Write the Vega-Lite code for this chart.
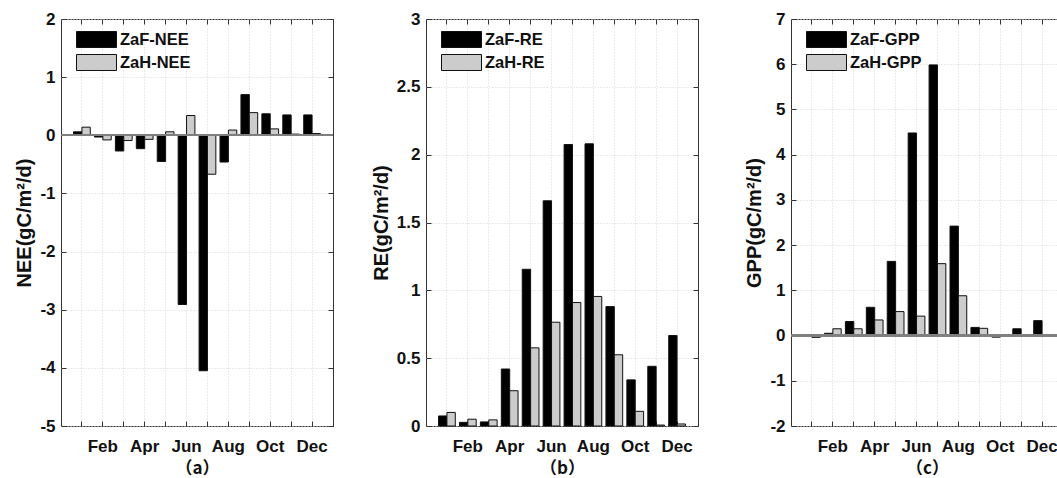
{
  "$schema": "https://vega.github.io/schema/vega-lite/v6.json",
  "background": "white",
  "padding": {"left": 14, "top": -8, "right": 0, "bottom": 0},
  "spacing": 93,
  "bounds": "flush",
  "config": {
    "font": "Liberation Sans",
    "view": {"stroke": "#333333", "strokeWidth": 1},
    "axis": {
      "domain": false,
      "labelFont": "Liberation Sans",
      "labelFontSize": 17,
      "labelFontWeight": "bold",
      "labelColor": "#111111",
      "tickColor": "#333333",
      "tickSize": -5,
      "gridColor": "#d4d4d4",
      "gridDash": [1, 2],
      "titleFont": "Liberation Sans",
      "titleFontWeight": "bold",
      "titleColor": "#111111"
    },
    "legend": {
      "orient": "none",
      "legendX": 27,
      "legendY": 12,
      "title": null,
      "padding": 0,
      "symbolType": "M-2.5,-1H2.5V1H-2.5Z",
      "symbolSize": 256,
      "symbolStrokeColor": "#111111",
      "symbolStrokeWidth": 1,
      "symbolOpacity": 1,
      "labelFont": "Liberation Sans",
      "labelFontSize": 16.5,
      "labelFontWeight": "bold",
      "labelColor": "#111111",
      "labelOffset": 15,
      "rowPadding": 2
    }
  },
  "data": {
    "values": [
      {"panel": "a", "month": "Jan", "series": "ZaF-NEE", "value": 0.06},
      {"panel": "a", "month": "Feb", "series": "ZaF-NEE", "value": -0.03},
      {"panel": "a", "month": "Mar", "series": "ZaF-NEE", "value": -0.27},
      {"panel": "a", "month": "Apr", "series": "ZaF-NEE", "value": -0.23},
      {"panel": "a", "month": "May", "series": "ZaF-NEE", "value": -0.45},
      {"panel": "a", "month": "Jun", "series": "ZaF-NEE", "value": -2.91},
      {"panel": "a", "month": "Jul", "series": "ZaF-NEE", "value": -4.05},
      {"panel": "a", "month": "Aug", "series": "ZaF-NEE", "value": -0.46},
      {"panel": "a", "month": "Sep", "series": "ZaF-NEE", "value": 0.70},
      {"panel": "a", "month": "Oct", "series": "ZaF-NEE", "value": 0.37},
      {"panel": "a", "month": "Nov", "series": "ZaF-NEE", "value": 0.35},
      {"panel": "a", "month": "Dec", "series": "ZaF-NEE", "value": 0.35},
      {"panel": "a", "month": "Jan", "series": "ZaH-NEE", "value": 0.14},
      {"panel": "a", "month": "Feb", "series": "ZaH-NEE", "value": -0.08},
      {"panel": "a", "month": "Mar", "series": "ZaH-NEE", "value": -0.09},
      {"panel": "a", "month": "Apr", "series": "ZaH-NEE", "value": -0.07},
      {"panel": "a", "month": "May", "series": "ZaH-NEE", "value": 0.06},
      {"panel": "a", "month": "Jun", "series": "ZaH-NEE", "value": 0.34},
      {"panel": "a", "month": "Jul", "series": "ZaH-NEE", "value": -0.67},
      {"panel": "a", "month": "Aug", "series": "ZaH-NEE", "value": 0.09},
      {"panel": "a", "month": "Sep", "series": "ZaH-NEE", "value": 0.39},
      {"panel": "a", "month": "Oct", "series": "ZaH-NEE", "value": 0.11},
      {"panel": "a", "month": "Nov", "series": "ZaH-NEE", "value": 0.02},
      {"panel": "a", "month": "Dec", "series": "ZaH-NEE", "value": 0.03},
      {"panel": "b", "month": "Jan", "series": "ZaF-RE", "value": 0.074},
      {"panel": "b", "month": "Feb", "series": "ZaF-RE", "value": 0.027},
      {"panel": "b", "month": "Mar", "series": "ZaF-RE", "value": 0.03},
      {"panel": "b", "month": "Apr", "series": "ZaF-RE", "value": 0.42},
      {"panel": "b", "month": "May", "series": "ZaF-RE", "value": 1.155},
      {"panel": "b", "month": "Jun", "series": "ZaF-RE", "value": 1.66},
      {"panel": "b", "month": "Jul", "series": "ZaF-RE", "value": 2.075},
      {"panel": "b", "month": "Aug", "series": "ZaF-RE", "value": 2.08},
      {"panel": "b", "month": "Sep", "series": "ZaF-RE", "value": 0.88},
      {"panel": "b", "month": "Oct", "series": "ZaF-RE", "value": 0.34},
      {"panel": "b", "month": "Nov", "series": "ZaF-RE", "value": 0.44},
      {"panel": "b", "month": "Dec", "series": "ZaF-RE", "value": 0.667},
      {"panel": "b", "month": "Jan", "series": "ZaH-RE", "value": 0.10},
      {"panel": "b", "month": "Feb", "series": "ZaH-RE", "value": 0.05},
      {"panel": "b", "month": "Mar", "series": "ZaH-RE", "value": 0.045},
      {"panel": "b", "month": "Apr", "series": "ZaH-RE", "value": 0.26},
      {"panel": "b", "month": "May", "series": "ZaH-RE", "value": 0.576},
      {"panel": "b", "month": "Jun", "series": "ZaH-RE", "value": 0.765},
      {"panel": "b", "month": "Jul", "series": "ZaH-RE", "value": 0.91},
      {"panel": "b", "month": "Aug", "series": "ZaH-RE", "value": 0.955},
      {"panel": "b", "month": "Sep", "series": "ZaH-RE", "value": 0.525},
      {"panel": "b", "month": "Oct", "series": "ZaH-RE", "value": 0.108},
      {"panel": "b", "month": "Nov", "series": "ZaH-RE", "value": 0.007},
      {"panel": "b", "month": "Dec", "series": "ZaH-RE", "value": 0.015},
      {"panel": "c", "month": "Jan", "series": "ZaF-GPP", "value": 0.01},
      {"panel": "c", "month": "Feb", "series": "ZaF-GPP", "value": 0.05},
      {"panel": "c", "month": "Mar", "series": "ZaF-GPP", "value": 0.31},
      {"panel": "c", "month": "Apr", "series": "ZaF-GPP", "value": 0.625},
      {"panel": "c", "month": "May", "series": "ZaF-GPP", "value": 1.64},
      {"panel": "c", "month": "Jun", "series": "ZaF-GPP", "value": 4.48},
      {"panel": "c", "month": "Jul", "series": "ZaF-GPP", "value": 5.985},
      {"panel": "c", "month": "Aug", "series": "ZaF-GPP", "value": 2.42},
      {"panel": "c", "month": "Sep", "series": "ZaF-GPP", "value": 0.18},
      {"panel": "c", "month": "Oct", "series": "ZaF-GPP", "value": -0.035},
      {"panel": "c", "month": "Nov", "series": "ZaF-GPP", "value": 0.15},
      {"panel": "c", "month": "Dec", "series": "ZaF-GPP", "value": 0.33},
      {"panel": "c", "month": "Jan", "series": "ZaH-GPP", "value": -0.04},
      {"panel": "c", "month": "Feb", "series": "ZaH-GPP", "value": 0.15},
      {"panel": "c", "month": "Mar", "series": "ZaH-GPP", "value": 0.15},
      {"panel": "c", "month": "Apr", "series": "ZaH-GPP", "value": 0.345},
      {"panel": "c", "month": "May", "series": "ZaH-GPP", "value": 0.53},
      {"panel": "c", "month": "Jun", "series": "ZaH-GPP", "value": 0.43},
      {"panel": "c", "month": "Jul", "series": "ZaH-GPP", "value": 1.59},
      {"panel": "c", "month": "Aug", "series": "ZaH-GPP", "value": 0.88},
      {"panel": "c", "month": "Sep", "series": "ZaH-GPP", "value": 0.16},
      {"panel": "c", "month": "Oct", "series": "ZaH-GPP", "value": 0.01},
      {"panel": "c", "month": "Nov", "series": "ZaH-GPP", "value": 0.005},
      {"panel": "c", "month": "Dec", "series": "ZaH-GPP", "value": -0.01}
    ]
  },
  "hconcat": [
    {
      "width": 272,
      "height": 407,
      "transform": [{"filter": "datum.panel == 'a'"}],
      "layer": [
        {
          "mark": {"type": "bar", "stroke": "#111111", "strokeWidth": 1},
          "encoding": {
            "x": {
              "field": "month", "type": "nominal",
              "scale": {"domain": ["Jan","Feb","Mar","Apr","May","Jun","Jul","Aug","Sep","Oct","Nov","Dec"], "paddingInner": 0.2, "paddingOuter": 0.6},
              "axis": {"orient": "bottom", "grid": true, "labelAngle": 0, "labelPadding": 17, "labelExpr": "indexof(['Feb','Apr','Jun','Aug','Oct','Dec'], datum.value) >= 0 ? datum.value : ''", "title": "（a）", "titleFont": "Noto Sans CJK SC", "titleFontSize": 17, "titlePadding": 6}
            },
            "xOffset": {"field": "series", "type": "nominal", "scale": {"paddingInner": 0, "paddingOuter": 0}},
            "y": {
              "field": "value", "type": "quantitative",
              "scale": {"domain": [-5, 2], "nice": false, "zero": false},
              "axis": {"orient": "left", "grid": true, "values": [-5,-4,-3,-2,-1,0,1,2], "labelExpr": "'' + datum.value", "labelPadding": 11, "title": "NEE(gC/m²/d)", "titleFontSize": 20, "titlePadding": 5}
            },
            "color": {
              "field": "series", "type": "nominal",
              "scale": {"domain": ["ZaF-NEE", "ZaH-NEE"], "range": ["#000000", "#cccccc"]},
              "legend": {}
            }
          }
        },
        {
          "mark": {"type": "rule", "color": "#7f7f7f", "strokeWidth": 1.5},
          "encoding": {"y": {"datum": 0, "type": "quantitative", "axis": null}}
        },
        {
          "mark": {"type": "bar", "opacity": 0},
          "encoding": {
            "x": {"field": "month", "type": "nominal", "axis": {"orient": "top", "labels": false, "grid": false, "title": null}},
            "y": {"field": "value", "type": "quantitative", "axis": {"orient": "right", "labels": false, "grid": false, "title": null, "values": [-5,-4,-3,-2,-1,0,1,2]}}
          }
        }
      ],
      "resolve": {"axis": {"x": "independent", "y": "independent"}}
    },
    {
      "width": 272,
      "height": 407,
      "transform": [{"filter": "datum.panel == 'b'"}],
      "layer": [
        {
          "mark": {"type": "bar", "stroke": "#111111", "strokeWidth": 1},
          "encoding": {
            "x": {
              "field": "month", "type": "nominal",
              "scale": {"domain": ["Jan","Feb","Mar","Apr","May","Jun","Jul","Aug","Sep","Oct","Nov","Dec"], "paddingInner": 0.2, "paddingOuter": 0.6},
              "axis": {"orient": "bottom", "grid": true, "labelAngle": 0, "labelPadding": 17, "labelExpr": "indexof(['Feb','Apr','Jun','Aug','Oct','Dec'], datum.value) >= 0 ? datum.value : ''", "title": "（b）", "titleFont": "Noto Sans CJK SC", "titleFontSize": 17, "titlePadding": 6}
            },
            "xOffset": {"field": "series", "type": "nominal", "scale": {"paddingInner": 0, "paddingOuter": 0}},
            "y": {
              "field": "value", "type": "quantitative",
              "scale": {"domain": [0, 3], "nice": false},
              "axis": {"orient": "left", "grid": true, "values": [0,0.5,1,1.5,2,2.5,3], "labelExpr": "'' + datum.value", "labelPadding": 11, "title": "RE(gC/m²/d)", "titleFontSize": 20, "titlePadding": 5}
            },
            "color": {
              "field": "series", "type": "nominal",
              "scale": {"domain": ["ZaF-RE", "ZaH-RE"], "range": ["#000000", "#cccccc"]},
              "legend": {}
            }
          }
        },
        {
          "mark": {"type": "bar", "opacity": 0},
          "encoding": {
            "x": {"field": "month", "type": "nominal", "axis": {"orient": "top", "labels": false, "grid": false, "title": null}},
            "y": {"field": "value", "type": "quantitative", "axis": {"orient": "right", "labels": false, "grid": false, "title": null, "values": [0,0.5,1,1.5,2,2.5,3]}}
          }
        }
      ],
      "resolve": {"axis": {"x": "independent", "y": "independent"}}
    },
    {
      "width": 272,
      "height": 407,
      "transform": [{"filter": "datum.panel == 'c'"}],
      "layer": [
        {
          "mark": {"type": "bar", "stroke": "#111111", "strokeWidth": 1},
          "encoding": {
            "x": {
              "field": "month", "type": "nominal",
              "scale": {"domain": ["Jan","Feb","Mar","Apr","May","Jun","Jul","Aug","Sep","Oct","Nov","Dec"], "paddingInner": 0.2, "paddingOuter": 0.6},
              "axis": {"orient": "bottom", "grid": true, "labelAngle": 0, "labelPadding": 17, "labelExpr": "indexof(['Feb','Apr','Jun','Aug','Oct','Dec'], datum.value) >= 0 ? datum.value : ''", "title": "（c）", "titleFont": "Noto Sans CJK SC", "titleFontSize": 17, "titlePadding": 6}
            },
            "xOffset": {"field": "series", "type": "nominal", "scale": {"paddingInner": 0, "paddingOuter": 0}},
            "y": {
              "field": "value", "type": "quantitative",
              "scale": {"domain": [-2, 7], "nice": false, "zero": false},
              "axis": {"orient": "left", "grid": true, "values": [-2,-1,0,1,2,3,4,5,6,7], "labelExpr": "'' + datum.value", "labelPadding": 11, "title": "GPP(gC/m²/d)", "titleFontSize": 20, "titlePadding": 5}
            },
            "color": {
              "field": "series", "type": "nominal",
              "scale": {"domain": ["ZaF-GPP", "ZaH-GPP"], "range": ["#000000", "#cccccc"]},
              "legend": {}
            }
          }
        },
        {
          "mark": {"type": "rule", "color": "#7f7f7f", "strokeWidth": 1.5},
          "encoding": {"y": {"datum": 0, "type": "quantitative", "axis": null}}
        },
        {
          "mark": {"type": "bar", "opacity": 0},
          "encoding": {
            "x": {"field": "month", "type": "nominal", "axis": {"orient": "top", "labels": false, "grid": false, "title": null}},
            "y": {"field": "value", "type": "quantitative", "axis": {"orient": "right", "labels": false, "grid": false, "title": null, "values": [-2,-1,0,1,2,3,4,5,6,7]}}
          }
        }
      ],
      "resolve": {"axis": {"x": "independent", "y": "independent"}}
    }
  ],
  "resolve": {"scale": {"color": "independent", "xOffset": "independent"}}
}
